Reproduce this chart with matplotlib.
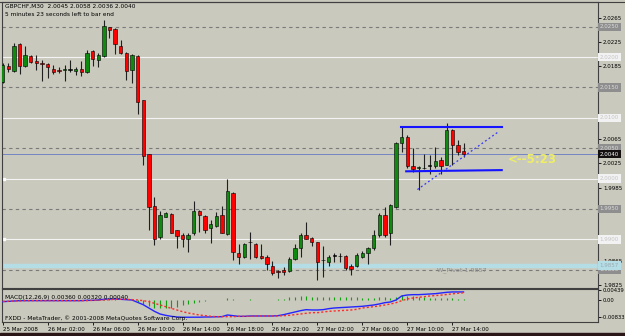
import matplotlib.pyplot as plt
import numpy as np
import pandas as pd
from matplotlib.patches import Rectangle

W, H = 625, 336
bg = '#c9c9bd'

symbol = 'GBPCHF,M30'
times = pd.date_range('2008-03-25 22:00', periods=83, freq='30min')

opens = [2.0159, 2.0186, 2.0177, 2.0221, 2.0186, 2.0201, 2.0193, 2.0191, 2.0189, 2.0180,
         2.0179, 2.0179, 2.0179, 2.0177, 2.0180, 2.0176, 2.0210, 2.0195, 2.0201, 2.0250,
         2.0246, 2.0218, 2.0206, 2.0179, 2.0201, 2.0129, 2.0040, 1.9955, 1.9904, 1.9937,
         1.9941, 1.9915, 1.9907, 1.9901, 1.9910, 1.9946, 1.9938, 1.9919, 1.9922, 1.9940,
         1.9909, 1.9977, 1.9878, 1.9871, 1.9895, 1.9893, 1.9872, 1.9871, 1.9856, 1.9848,
         1.9850, 1.9848, 1.9867, 1.9885, 1.9908, 1.9902, 1.9895, 1.9866, 1.9863, 1.9873,
         1.9872, 1.9872, 1.9857, 1.9856, 1.9871, 1.9878, 1.9885, 1.9907, 1.9940, 1.9910,
         1.9953, 2.0058, 2.0069, 2.0021, 2.0017, 2.0018, 2.0021, 2.0021, 2.0030, 2.0023,
         2.0080, 2.0055, 2.0045]
highs = [2.0190, 2.0190, 2.0223, 2.0223, 2.0218, 2.0203, 2.0203, 2.0195, 2.0191, 2.0187,
         2.0184, 2.0187, 2.0195, 2.0184, 2.0193, 2.0212, 2.0212, 2.0207, 2.0261, 2.0250,
         2.0247, 2.0228, 2.0209, 2.0205, 2.0203, 2.0130, 2.0041, 1.9970, 1.9947, 1.9945,
         1.9943, 1.9916, 1.9910, 1.9911, 1.9963, 1.9948, 1.9940, 1.9932, 1.9945, 1.9955,
         2.0000, 1.9978, 1.9893, 1.9894, 1.9912, 1.9894, 1.9893, 1.9874, 1.9864, 1.9850,
         1.9855, 1.9871, 1.9893, 1.9910, 1.9929, 1.9904, 1.9896, 1.9889, 1.9874, 1.9878,
         1.9878, 1.9874, 1.9860, 1.9877, 1.9881, 1.9888, 1.9915, 1.9943, 1.9953, 1.9959,
         2.0061, 2.0086, 2.0072, 2.0050, 2.0021, 2.0041, 2.0039, 2.0052, 2.0036, 2.0091,
         2.0081, 2.0063, 2.0058]
lows = [2.0158, 2.0176, 2.0176, 2.0172, 2.0184, 2.0190, 2.0179, 2.0161, 2.0165, 2.0172,
        2.0173, 2.0161, 2.0176, 2.0170, 2.0169, 2.0174, 2.0186, 2.0184, 2.0200, 2.0231,
        2.0205, 2.0205, 2.0162, 2.0158, 2.0107, 2.0022, 1.9916, 1.9890, 1.9900, 1.9937,
        1.9910, 1.9885, 1.9888, 1.9879, 1.9907, 1.9912, 1.9911, 1.9894, 1.9921, 1.9910,
        1.9907, 1.9866, 1.9860, 1.9870, 1.9868, 1.9870, 1.9868, 1.9850, 1.9841, 1.9836,
        1.9841, 1.9847, 1.9866, 1.9871, 1.9900, 1.9889, 1.9833, 1.9838, 1.9857, 1.9862,
        1.9862, 1.9849, 1.9841, 1.9855, 1.9870, 1.9860, 1.9883, 1.9904, 1.9904, 1.9890,
        1.9951, 2.0044, 2.0017, 2.0011, 1.9982, 2.0015, 2.0008, 2.0017, 2.0008, 2.0022,
        2.0022, 2.0039, 2.0036]
closes = [2.0187, 2.0181, 2.0219, 2.0186, 2.0203, 2.0192, 2.0190, 2.0189, 2.0184, 2.0176,
          2.0177, 2.0181, 2.0179, 2.0180, 2.0176, 2.0207, 2.0197, 2.0203, 2.0251, 2.0245,
          2.0221, 2.0207, 2.0177, 2.0203, 2.0126, 2.0037, 1.9953, 1.9901, 1.9940, 1.9944,
          1.9911, 1.9905, 1.9900, 1.9908, 1.9947, 1.9940, 1.9916, 1.9925, 1.9939, 1.9911,
          1.9979, 1.9879, 1.9871, 1.9893, 1.9895, 1.9871, 1.9870, 1.9859, 1.9845, 1.9847,
          1.9847, 1.9867, 1.9885, 1.9907, 1.9901, 1.9896, 1.9863, 1.9866, 1.9871, 1.9873,
          1.9872, 1.9853, 1.9852, 1.9874, 1.9878, 1.9886, 1.9907, 1.9940, 1.9907, 1.9956,
          2.0058, 2.0068, 2.0021, 2.0015, 2.0019, 2.0017, 2.0021, 2.0029, 2.0021, 2.0080,
          2.0055, 2.0043, 2.0040]

macd = [-0.00097, -0.00082, -0.00066, -0.0005, -0.0005, -0.0005, -0.0005, -0.0005, -0.0005, -0.0005,
        -0.0005, -0.0005, -0.0005, -0.0005, -0.0005, -0.00035, -0.00035, -0.00019, 0.00013, 0.00028,
        0.00028, 0.00013, -0.00003, -0.00019, -0.00129, -0.00239, -0.00396, -0.00553, -0.00679, -0.00742,
        -0.00789, -0.0082, -0.00833, -0.00833, -0.0083, -0.0083, -0.0082, -0.0082, -0.0081, -0.00805,
        -0.00726, -0.00758, -0.00789, -0.00789, -0.00773, -0.00773, -0.00773, -0.00773, -0.00773, -0.00758,
        -0.0071, -0.00647, -0.00585, -0.00522, -0.00475, -0.0049, -0.0049, -0.00475, -0.00428, -0.00396,
        -0.0038, -0.00365, -0.00349, -0.00333, -0.00317, -0.00286, -0.00255, -0.00207, -0.00145, -0.00113,
        -0.00019, 0.0017, 0.00217, 0.00233, 0.00233, 0.00248, 0.00264, 0.0028, 0.00311, 0.00343,
        0.0036, 0.0036, 0.0036]
signal = [-0.00082, -0.00082, -0.00066, -0.00066, -0.0005, -0.0005, -0.0005, -0.0005, -0.0005, -0.0005,
          -0.0005, -0.0005, -0.0005, -0.0005, -0.0005, -0.0005, -0.00035, -0.00035, -0.00019, -0.00003,
          0.00013, 0.00013, 0.00013, -0.00003, -0.00019, -0.0005, -0.00097, -0.00176, -0.00255, -0.00333,
          -0.00412, -0.0049, -0.00569, -0.00632, -0.00679, -0.00726, -0.00758, -0.00789, -0.00805, -0.00805,
          -0.00805, -0.00805, -0.00789, -0.00789, -0.00789, -0.00773, -0.00773, -0.00773, -0.00773, -0.00773,
          -0.00758, -0.00742, -0.0071, -0.00679, -0.00647, -0.00616, -0.00616, -0.00585, -0.00553, -0.00537,
          -0.00522, -0.00506, -0.0049, -0.00459, -0.00396, -0.00365, -0.00333, -0.00302, -0.00255, -0.00207,
          -0.00145, -0.0005, 0.00028, 0.00075, 0.00107, 0.00138, 0.0017, 0.0019, 0.0021, 0.0024,
          0.0027, 0.0030, 0.0032]
hist = [-0.00015, 0, 0, 0.00016, 0, 0, 0, 0, 0, 0,
        0, 0, 0, 0, 0, 0.00015, 0, 0.00016, 0.00032, 0.0003,
        0.00015, 0, -0.00016, -0.00016, -0.0011, -0.0019, -0.003, -0.0038, -0.0042, -0.0041,
        -0.0038, -0.0033, -0.0026, -0.002, -0.0015, -0.001, -0.0006, -0.0003, -0.0001, 0,
        0.0008, 0.0005, 0, 0, 0.0002, 0, 0, 0, 0, 0.00015,
        0.0005, 0.001, 0.0013, 0.0016, 0.0017, 0.0013, 0.0013, 0.0011, 0.0012, 0.0014,
        0.0014, 0.0014, 0.0014, 0.0013, 0.0008, 0.0008, 0.0008, 0.001, 0.0011, 0.0009,
        0.0013, 0.0022, 0.0019, 0.0016, 0.0013, 0.0011, 0.0009, 0.0009, 0.0009, 0.0009,
        0.0007, 0.0005, 0.0004]

price_ticks = [2.0265, 2.0225, 2.0185, 2.0145, 2.0105, 2.0065, 2.0025, 1.9985, 1.9945, 1.9905, 1.9865, 1.9825]
gray_levels = [2.0250, 2.0150, 2.0050, 1.9950, 1.9850]
white_levels = [2.0200, 2.0100, 2.0000, 1.9900]
bid = 2.0040
w_pivot = 1.9857
macd_ticks = [0.00439, 0.0, -0.00833]

# hand-drawn objects on the chart (bar index, price)
chan_top = ([70.8, 88.8], [2.0085, 2.0085])
chan_bot = ([71.8, 88.8], [2.0012, 2.0014])
trend = ([73.8, 88.2], [1.9982, 2.0077])


def fx(x):
    return x / W


def fy(y):
    return 1 - y / H


fig = plt.figure(figsize=(W / 100, H / 100), dpi=100, facecolor=bg)
ax = fig.add_axes([fx(2), fy(288), fx(596), 286 / H], facecolor=bg)
mx = fig.add_axes([fx(2), fy(321.5), fx(596), 33 / H], facecolor=bg)

x = np.arange(len(opens))
o = np.array(opens)
h = np.array(highs)
l = np.array(lows)
c = np.array(closes)

# price levels
for lv in gray_levels:
    ax.axhline(lv, color='#7a7a7a', lw=0.8, ls=(0, (3, 3)), zorder=1)
for lv in white_levels:
    ax.axhline(lv, color='#f4f4f4', lw=0.8, zorder=1)
ax.plot([0.004, 0.004], [2.0000, 1.9900], 's', ms=1.8, color='white',
        transform=ax.get_yaxis_transform(), clip_on=False, zorder=2)
ax.axhline(w_pivot, color='#b4dde6', lw=3.2, zorder=1)
ax.axhline(bid, color='#7484c4', lw=0.7, zorder=1)

# candles
cols = np.where(c > o, '#0e8a0e', np.where(c < o, '#ff0000', '#000000'))
ax.vlines(x, l, h, color='#202020', lw=0.8, zorder=3)
ax.bar(x, np.maximum(np.abs(c - o), 0.00006), bottom=np.minimum(o, c), width=0.6,
       color=cols, edgecolor='black', lw=0.4, zorder=4)

# objects
ax.plot(*chan_top, color='#1414ff', lw=1.5, zorder=5)
ax.plot(*chan_bot, color='#1414ff', lw=1.5, zorder=5)
ax.plot(*trend, color='#3434ff', lw=0.9, ls=(0, (1.5, 2)), zorder=5)
ax.text(89.9, 2.00315, '<--5:23', color='#eeee66', fontsize=8.5, fontweight='bold',
        va='center', ha='left', zorder=6)
ax.text(77.3, 1.98496, 'W_Pivot ' + f'{w_pivot:.4f}', color='#8c8c8c', fontsize=4.6,
        va='center', ha='left', zorder=6)

ax.set_xlim(-0.125, 105.93)
ax.set_ylim(1.98200, 2.02906)
ax.yaxis.tick_right()
ax.set_yticks(price_ticks)
# labels that sit under the level boxes are hidden in the reference
hidden = {2.0145, 2.0105, 1.9945, 1.9905}
ax.set_yticklabels(['' if t in hidden else f'{t:.4f}' for t in price_ticks])
ax.tick_params(axis='y', length=2, width=0.6, pad=1.5, labelsize=4, colors='black')
ax.set_xticks([])
for s in ax.spines.values():
    s.set_color('#404040')
    s.set_linewidth(0.8)


def price_box(val, txt, fc, tc):
    ax.text(1.003, val, txt, transform=ax.get_yaxis_transform(), fontsize=4, color=tc,
            ha='left', va='center', clip_on=False, zorder=10,
            bbox=dict(boxstyle='square,pad=0.3', fc=fc, ec='none'))


for lv in gray_levels:
    price_box(lv, f'{lv:.4f}', '#8e8e8e', '#dcdcdc')
for lv in white_levels:
    price_box(lv, f'{lv:.4f}', '#f2f2f2', '#c4c4c4')
price_box(w_pivot, f'{w_pivot:.4f}', '#b4dde6', '#9aaab0')
price_box(bid, f'{bid:.4f}', '#141010', 'white')

# MACD pane
mx.vlines(x, 0, hist, color='#10a010', lw=0.8, zorder=2)
mx.plot(x, macd, color='#2424ff', lw=1.0, zorder=3)
mx.plot(x, signal, color='#ff2a2a', lw=1.0, ls=(0, (1.5, 1.5)), zorder=3)
mx.set_xlim(-0.125, 105.93)
mx.set_ylim(-0.01033, 0.00523)
mx.yaxis.tick_right()
mx.set_yticks(macd_ticks)
mx.set_yticklabels(['0.00439', '0.00', '-0.00833'])
mx.tick_params(axis='y', length=2, width=0.6, pad=1, labelsize=3.8, colors='black')
xt = list(range(0, len(opens), 8))
mx.set_xticks(xt)
mx.set_xticklabels(['25 Mar 2008'] + [times[i].strftime('%d %b %H:%M') for i in xt[1:]])
mx.tick_params(axis='x', length=2.5, width=0.6, pad=1.5, labelsize=4, colors='black')
for lab in mx.get_xticklabels():
    lab.set_horizontalalignment('left')
for s in mx.spines.values():
    s.set_color('#404040')
    s.set_linewidth(0.8)

# header texts
fig.text(fx(5), fy(6), f'{symbol}  {opens[-1]:.4f} {highs[-1]:.4f} {lows[-1]:.4f} {closes[-1]:.4f}',
         fontsize=4.2, va='center', ha='left')
fig.text(fx(5), fy(14), '5 minutes 23 seconds left to bar end', fontsize=4.2, va='center', ha='left')
fig.text(fx(5), fy(297.3), 'MACD(12,26,9) 0.00360 0.00320 0.00040', fontsize=4.2, va='center', ha='left')
fig.text(fx(5), fy(317.7), 'FXDD - MetaTrader, \u00a9 2001-2008 MetaQuotes Software Corp.',
         fontsize=4.2, va='center', ha='left')

fig.add_artist(plt.Line2D([0, 1], [fy(1.5), fy(1.5)], color='#404040', lw=0.8))
fig.patches.append(Rectangle((0, 0), 1, 3 / H, transform=fig.transFigure, color='#2a1616'))

fig.savefig('out.png', dpi=100, facecolor=bg)
